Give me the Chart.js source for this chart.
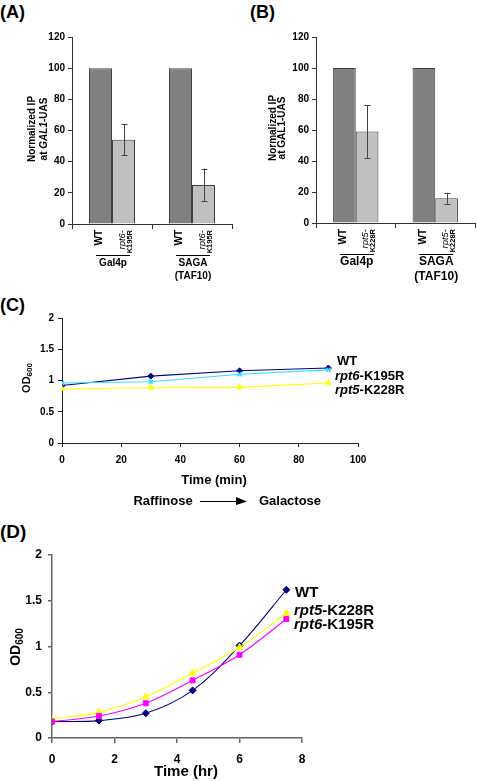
<!DOCTYPE html>
<html><head><meta charset="utf-8">
<script src="https://cdn.jsdelivr.net/npm/chart.js@4.4.1/dist/chart.umd.min.js"></script>
<style>
body{margin:0;background:#fff;width:477px;height:781px;overflow:hidden;position:relative;font-family:Arial,"Liberation Sans",sans-serif}
canvas{position:absolute}
.lab{position:absolute;font-weight:bold;font-size:18px;line-height:18px;color:#000;font-family:Arial,"Liberation Sans",sans-serif}
</style></head><body>
<div class="lab" style="left:0;top:3px">(A)</div>
<div class="lab" style="left:250px;top:3px">(B)</div>
<div class="lab" style="left:0;top:296px">(C)</div>
<div class="lab" style="left:0;top:523px;font-size:19px">(D)</div>
<canvas id="cA" width="238" height="290" style="left:0;top:0;width:238px;height:290px"></canvas>
<canvas id="cB" width="239" height="290" style="left:238px;top:0;width:239px;height:290px"></canvas>
<canvas id="cC" width="477" height="230" style="left:0;top:290px;width:477px;height:230px"></canvas>
<canvas id="cD" width="477" height="261" style="left:0;top:520px;width:477px;height:261px"></canvas>
<script>
// ---------- data ----------
const barGroups = ['Gal4p', 'SAGA (TAF10)'];
const groupLines = [['Gal4p'], ['SAGA', '(TAF10)']];
const aWT = [100, 100];
const aMut = [54, 25];
const aErr = [10, 10.5];
const aMutName = ['rpt6-', 'K195R'];
const bWT = [100, 100];
const bMut = [59, 16];
const bErr = [17, 3.5];
const bMutName = ['rpt5-', 'K228R'];

const cTime = [0, 30, 60, 90];
const cWT = [0.92, 1.07, 1.155, 1.2];
const cRpt6 = [0.96, 0.98, 1.10, 1.17];
const cRpt5 = [0.865, 0.885, 0.89, 0.96];

const dTime = [0, 1.5, 3, 4.5, 6, 7.5];
const dWT = [0.18, 0.19, 0.27, 0.52, 1.01, 1.62];
const dRpt5 = [0.21, 0.28, 0.45, 0.71, 0.99, 1.36];
const dRpt6 = [0.18, 0.24, 0.38, 0.63, 0.91, 1.30];

const FONT = 'Arial, "Liberation Sans", sans-serif';
function f(size, weight, style){ return (style||'') + ' ' + (weight||'bold') + ' ' + size + 'px ' + FONT; }
const plainTick = v => String(v);

function richWidth(ctx, segs){ let w=0; segs.forEach(s=>{ctx.font=s.font; w+=ctx.measureText(s.t).width;}); return w; }
function drawRich(ctx, segs, x, y, align){
  const w = richWidth(ctx, segs);
  let cx = align==='center' ? x - w/2 : align==='right' ? x - w : x;
  ctx.textAlign='left'; ctx.textBaseline='middle';
  segs.forEach(s=>{ ctx.font=s.font; ctx.fillText(s.t, cx, y + (s.dy||0)); cx += ctx.measureText(s.t).width; });
}
function drawRotated(ctx, segs, x, y, align){
  ctx.save(); ctx.translate(x, y); ctx.rotate(-Math.PI/2); drawRich(ctx, segs, 0, 0, align); ctx.restore();
}

// ---------- bar charts ----------
function barChart(id, wt, mut, err, mutName, o){
  new Chart(document.getElementById(id), {
    type:'bar',
    data:{labels: barGroups, datasets:[
      {label:'WT', data:wt, backgroundColor:'#808080', borderColor:'#404040', borderWidth:1, categoryPercentage:o.cat, barPercentage:1},
      {label:mutName.join(''), data:mut, backgroundColor:'#c0c0c0', borderColor:'#404040', borderWidth:1, categoryPercentage:o.cat, barPercentage:1}
    ]},
    options:{
      responsive:false, animation:false, events:[],
      layout:{padding:{top:o.top, right:o.right, left:0, bottom:0}},
      plugins:{legend:{display:false}, tooltip:{enabled:false}},
      scales:{
        x:{grid:{offset:true, drawOnChartArea:false, tickLength:5, color:'#333'}, border:{color:'#333'}, ticks:{display:false}, afterFit:s=>{s.height=o.xh;}},
        y:{min:0, max:120, ticks:{stepSize:20, color:'#000', font:{family:FONT, size:10, weight:'bold'}, padding:3, callback:plainTick}, grid:{drawOnChartArea:false, tickLength:4, color:'#333'}, border:{color:'#333'}, afterFit:s=>{s.width=o.yw;}}
      }
    },
    plugins:[{id:'extra', afterDatasetsDraw(chart){
      const ctx = chart.ctx, ys = chart.scales.y, xs = chart.scales.x, ca = chart.chartArea;
      ctx.save();
      ctx.strokeStyle='#444'; ctx.lineWidth=1;
      chart.getDatasetMeta(1).data.forEach((el,i)=>{
        const y1 = ys.getPixelForValue(mut[i]+err[i]), y2 = ys.getPixelForValue(mut[i]-err[i]);
        const x = Math.round(el.x)+0.5;
        ctx.beginPath(); ctx.moveTo(x,y1); ctx.lineTo(x,y2);
        ctx.moveTo(x-3,Math.round(y1)+0.5); ctx.lineTo(x+3,Math.round(y1)+0.5);
        ctx.moveTo(x-3,Math.round(y2)+0.5); ctx.lineTo(x+3,Math.round(y2)+0.5);
        ctx.stroke();
      });
      ctx.fillStyle='#000';
      const yTop = ca.bottom + 6;
      chart.getDatasetMeta(0).data.forEach(el=>{
        drawRotated(ctx, [{t:'WT', font:f(o.wtSize)}], el.x-1, yTop, 'right');
      });
      chart.getDatasetMeta(1).data.forEach(el=>{
        drawRotated(ctx, [{t:mutName[0], font:f(o.wtSize-0.5,'normal','italic')}], el.x-1.5, yTop, 'right');
        drawRotated(ctx, [{t:mutName[1], font:f(o.wtSize-2.5)}], el.x+6, yTop, 'right');
      });
      ctx.strokeStyle='#000'; ctx.lineWidth=1;
      groupLines.forEach((lines,i)=>{
        const c = xs.getPixelForValue(i);
        const ly = Math.round(ca.bottom + 31)+0.5;
        ctx.beginPath(); ctx.moveTo(c-16, ly); ctx.lineTo(c+18, ly); ctx.stroke();
        lines.forEach((t,k)=>{ drawRich(ctx, [{t, font:f(o.grpSize)}], c+1, ca.bottom + 39 + k*o.grpLH, 'center'); });
      });
      drawRotated(ctx, [{t:'Normalized IP', font:f(o.titleSize)}], o.t1x, o.tcy, 'center');
      drawRotated(ctx, o.title2, o.t2x, o.tcy, 'center');
      ctx.restore();
    }}]
  });
}

barChart('cA', aWT, aMut, aErr, aMutName, {cat:0.575, top:37, right:6, xh:66, yw:72, wtSize:10, grpSize:10, grpLH:13,
  titleSize:10, t1x:32, t2x:44, tcy:129,
  title2:[{t:'at ', font:f(10)}, {t:'GAL1', font:f(10,'bold','italic')}, {t:'-UAS', font:f(10)}]});
barChart('cB', bWT, bMut, bErr, bMutName, {cat:0.57, top:37, right:2, xh:67, yw:78, wtSize:10, grpSize:12, grpLH:15,
  titleSize:10, t1x:35, t2x:44, tcy:128,
  title2:[{t:'at GAL1-UAS', font:f(10)}]});

// ---------- line charts ----------
function lineDS(label, xs, ys, color, style, radius, tension){
  return {label, data: xs.map((x,i)=>({x, y: ys[i]})), borderColor: color, backgroundColor: color,
    pointStyle: style, pointRadius: radius, pointBorderWidth: style==='crossRot'?1.5:1, borderWidth:1.1, showLine:true, tension};
}

const C_TOP = 290;
new Chart(document.getElementById('cC'), {
  type:'scatter',
  data:{datasets:[
    lineDS('rpt5-K228R', cTime, cRpt5, '#ffff00', 'triangle', 3.2, 0),
    lineDS('rpt6-K195R', cTime, cRpt6, '#33e0ff', 'crossRot', 3, 0),
    lineDS('WT', cTime, cWT, '#000080', 'rectRot', 3, 0)
  ]},
  options:{
    responsive:false, animation:false, events:[],
    layout:{padding:{top:28, right:119, left:0, bottom:0}},
    plugins:{legend:{display:false}, tooltip:{enabled:false}},
    scales:{
      x:{type:'linear', min:0, max:100, ticks:{stepSize:20, color:'#000', font:{family:FONT, size:10, weight:'bold'}, padding:7, maxRotation:0, callback:plainTick},
         grid:{drawOnChartArea:false, tickLength:4, color:'#222'}, border:{color:'#222'}, afterFit:s=>{s.height=77;}},
      y:{min:0, max:2, ticks:{stepSize:0.5, color:'#000', font:{family:FONT, size:10, weight:'bold'}, padding:4, callback:plainTick},
         grid:{drawOnChartArea:false, tickLength:4, color:'#222'}, border:{color:'#222'}, afterFit:s=>{s.width=62;}}
    }
  },
  plugins:[{id:'cx', afterDraw(chart){
    const ctx = chart.ctx; ctx.save(); ctx.fillStyle='#000';
    const Y = v=>v-C_TOP;
    drawRotated(ctx, [{t:'OD', font:f(11)}, {t:'600', font:f(8), dy:3}], 27, Y(378), 'center');
    drawRich(ctx, [{t:'Time (min)', font:f(13)}], 214, Y(480), 'center');
    drawRich(ctx, [{t:'Raffinose', font:f(13)}], 163, Y(501), 'center');
    drawRich(ctx, [{t:'Galactose', font:f(13)}], 290, Y(501), 'center');
    ctx.strokeStyle='#000'; ctx.lineWidth=1;
    ctx.beginPath(); ctx.moveTo(200, Y(501)+0.5); ctx.lineTo(238, Y(501)+0.5); ctx.stroke();
    ctx.beginPath(); ctx.moveTo(236, Y(497)); ctx.lineTo(247, Y(501)+0.5); ctx.lineTo(236, Y(505)); ctx.closePath(); ctx.fill();
    drawRich(ctx, [{t:'WT', font:f(13)}], 337, Y(361), 'left');
    drawRich(ctx, [{t:'rpt6', font:f(13,'bold','italic')}, {t:'-K195R', font:f(13)}], 335, Y(376), 'left');
    drawRich(ctx, [{t:'rpt5', font:f(13,'bold','italic')}, {t:'-K228R', font:f(13)}], 335, Y(390), 'left');
    ctx.restore();
  }}]
});

const D_TOP = 520;
new Chart(document.getElementById('cD'), {
  type:'scatter',
  data:{datasets:[
    lineDS('rpt6-K195R', dTime, dRpt6, '#ff00ff', 'rect', 3.5, 0.35),
    lineDS('rpt5-K228R', dTime, dRpt5, '#ffff00', 'triangle', 4, 0.35),
    lineDS('WT', dTime, dWT, '#000080', 'rectRot', 3.5, 0.35)
  ]},
  options:{
    responsive:false, animation:false, events:[],
    layout:{padding:{top:35, right:175, left:0, bottom:0}},
    plugins:{legend:{display:false}, tooltip:{enabled:false}},
    scales:{
      x:{type:'linear', min:0, max:8, ticks:{stepSize:2, color:'#000', font:{family:FONT, size:12, weight:'bold'}, padding:9, maxRotation:0, callback:plainTick},
         grid:{drawOnChartArea:false, tickLength:5, color:'#666', lineWidth:1.5}, border:{color:'#666', width:1.5}, afterFit:s=>{s.height=43;}},
      y:{min:0, max:2, ticks:{stepSize:0.5, color:'#000', font:{family:FONT, size:12, weight:'bold'}, padding:6, callback:plainTick},
         grid:{drawOnChartArea:false, tickLength:4, color:'#666', lineWidth:1.5}, border:{color:'#666', width:1.5}, afterFit:s=>{s.width=52;}}
    }
  },
  plugins:[{id:'dx', afterDraw(chart){
    const ctx = chart.ctx; ctx.save(); ctx.fillStyle='#000';
    const Y = v=>v-D_TOP;
    drawRotated(ctx, [{t:'OD', font:f(14)}, {t:'600', font:f(10), dy:4}], 16, Y(647), 'center');
    drawRich(ctx, [{t:'Time (hr)', font:f(15)}], 186, Y(772), 'center');
    drawRich(ctx, [{t:'WT', font:f(15)}], 295, Y(593), 'left');
    drawRich(ctx, [{t:'rpt5', font:f(15,'bold','italic')}, {t:'-K228R', font:f(15)}], 294, Y(611), 'left');
    drawRich(ctx, [{t:'rpt6', font:f(15,'bold','italic')}, {t:'-K195R', font:f(15)}], 294, Y(625), 'left');
    ctx.restore();
  }}]
});
</script>
</body></html>
